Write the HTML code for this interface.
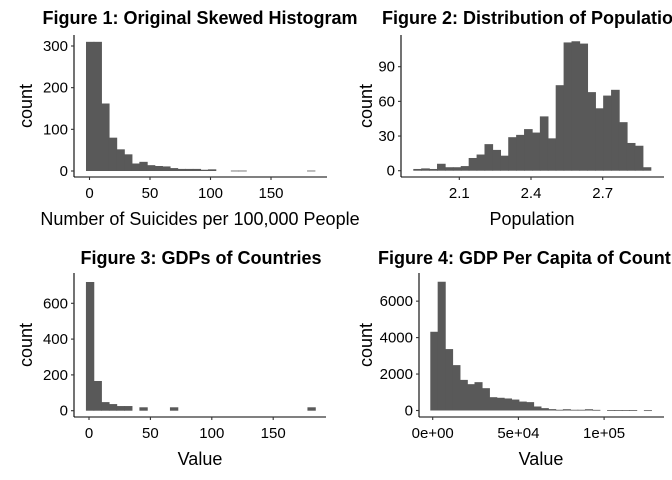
<!DOCTYPE html>
<html><head><meta charset="utf-8"><style>
html,body{margin:0;padding:0;background:#fff;}
svg{display:block;font-family:"Liberation Sans",sans-serif;}
</style></head><body>
<svg id="c" width="672" height="480" viewBox="0 0 672 480"></svg>
<script>
// Figure 1 data
const f1Counts=[310,310,162,80,52,40,18,22,14,12,11,7,5,5,5,3,4,0,0,1,1,0,0,0,0,0,0,0,0,1];
const f1XTicks=[0,50,100,150];
const f1YTicks=[0,100,200,300];
// Figure 2 data
const f2Counts=[1.5,2,1.5,6,3,3,4,11,14,23,18,13,29,31,36,33,47,28,74,111,112,110,68,54,65,70,42,24,21.6,3];
const f2XTicks=[2.1,2.4,2.7];
const f2YTicks=[0,30,60,90];
// Figure 3 data
const f3Counts=[719,166,48,37,26,26,0,19,0,0,0,19,0,0,0,0,0,0,0,0,0,0,0,0,0,0,0,0,0,19];
const f3XTicks=[0,50,100,150];
const f3YTicks=[0,200,400,600];
// Figure 4 data
const f4Counts=[4320,7065,3370,2490,1680,1445,1555,1225,730,698,660,600,490,460,220,130,75,40,70,40,40,70,35,0,20,20,20,20,0,15];
const f4XTicks=[0,50000,100000];
const f4XTickLabels=["0e+00","5e+04","1e+05"];
const f4YTicks=[0,2000,4000,6000];

const NS="http://www.w3.org/2000/svg";
const svg=document.getElementById('c');
function mk(t,a,p){const e=document.createElementNS(NS,t);for(const k in a)e.setAttribute(k,a[k]);(p||svg).appendChild(e);return e;}

const panels=[
 {key:'fig1',title:'Figure 1: Original Skewed Histogram',tx:200,ta:'middle',ty:24,counts:f1Counts,xt:f1XTicks,xl:f1XTicks.map(String),yt:f1YTicks,
  ax:74,axEnd:327,ay:177,top:35,x0v:0,x0p:89.5,xs:1.21,binStart:-2.9,binW:6.3,y0p:171,ys:125/300,xtitle:'Number of Suicides per 100,000 People',xtx:200,ytitleX:26},
 {key:'fig2',title:'Figure 2: Distribution of Population',tx:382,ta:'start',ty:24,counts:f2Counts,xt:f2XTicks,xl:f2XTicks.map(v=>v.toFixed(1)),yt:f2YTicks,
  ax:401,axEnd:664,ay:177,top:35,x0v:2.1,x0p:459.3,xs:239,binStart:1.9075,binW:0.0331,y0p:170.7,ys:104/90,xtitle:'Population',xtx:532,ytitleX:366},
 {key:'fig3',title:'Figure 3: GDPs of Countries',tx:201,ta:'middle',ty:264,counts:f3Counts,xt:f3XTicks,xl:f3XTicks.map(String),yt:f3YTicks,
  ax:74,axEnd:326,ay:417,top:273,x0v:0,x0p:89,xs:1.228,binStart:-2.5,binW:6.22,y0p:410.7,ys:107.4/600,xtitle:'Value',xtx:200,ytitleX:26},
 {key:'fig4',title:'Figure 4: GDP Per Capita of Countries',tx:378,ta:'start',ty:264,counts:f4Counts,xt:f4XTicks,xl:f4XTickLabels,yt:f4YTicks,
  ax:419,axEnd:664,ay:417,top:273,x0v:0,x0p:432.7,xs:85.7/50000,binStart:-1400,binW:4297,y0p:410.5,ys:36.45/2000,xtitle:'Value',xtx:541,ytitleX:366}
];

panels.forEach(p=>{
 const g=mk('g',{});
 
 
 const X=v=>p.x0p+(v-p.x0v)*p.xs;
 const Y=v=>p.y0p-v*p.ys;
 p.counts.forEach((c,i)=>{
  if(c<=0)return;
  const x1=X(p.binStart+i*p.binW),x2=X(p.binStart+(i+1)*p.binW);
  const r=mk('rect',{x:x1,y:Y(c),width:x2-x1+0.7,height:Math.max(Y(0)-Y(c),0.8),fill:'#595959'},g);
  
  
 });
 const ya=mk('line',{x1:p.ax,y1:p.top,x2:p.ax,y2:p.ay,stroke:'#000','stroke-width':1.1},g);
 
 
 const xa=mk('line',{x1:p.ax,y1:p.ay,x2:p.axEnd,y2:p.ay,stroke:'#000','stroke-width':1.1},g);
 
 
 p.yt.forEach(v=>{
  const y=Y(v);
  mk('line',{x1:p.ax-3,y1:y,x2:p.ax,y2:y,stroke:'#333','stroke-width':1.1},g);
  const t=mk('text',{x:p.ax-6,y:y+5,'text-anchor':'end','font-size':15,fill:'#000'},g);
  t.textContent=String(v);
  
  
 });
 p.xt.forEach((v,i)=>{
  const x=X(v);
  mk('line',{x1:x,y1:p.ay,x2:x,y2:p.ay+3,stroke:'#333','stroke-width':1.1},g);
  const t=mk('text',{x:x,y:p.ay+21,'text-anchor':'middle','font-size':15,fill:'#000'},g);
  t.textContent=p.xl[i];
  
  
 });
 const tt=mk('text',{x:p.tx,y:p.ty,'text-anchor':p.ta,'font-size':18,'font-weight':'bold',fill:'#000'},g);
 tt.textContent=p.title;
 
 
 const xt=mk('text',{x:p.xtx,y:p.ay+48,'text-anchor':'middle','font-size':18,fill:'#000'},g);
 xt.textContent=p.xtitle;
 
 
 const cy=(p.top+p.ay)/2;
 const yt=mk('text',{x:p.ytitleX,y:cy,'text-anchor':'middle','font-size':18,fill:'#000',transform:'rotate(-90 '+p.ytitleX+' '+cy+')'},g);
 yt.setAttribute('dy','6');
 yt.textContent='count';
 
 
});
</script>
</body></html>
